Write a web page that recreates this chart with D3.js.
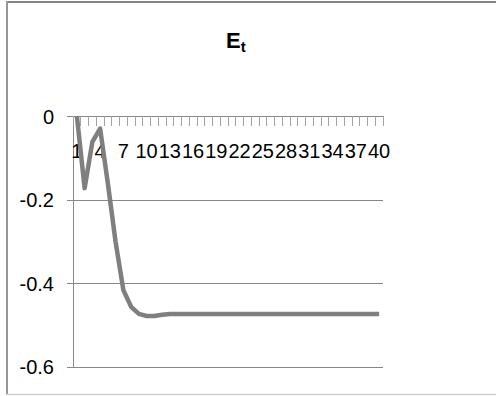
<!DOCTYPE html>
<html>
<head>
<meta charset="utf-8">
<script src="https://cdn.jsdelivr.net/npm/d3@7"></script>
<style>
  html, body { margin: 0; padding: 0; background: #fff; }
  svg { display: block; }
  text { font-family: "Liberation Sans", Arial, sans-serif; fill: #000; }
</style>
</head>
<body>
<svg id="chart" width="496" height="396"></svg>
<script>
// Categories (time steps) and the series E_t
const categories = [1, 2, 3, 4, 5, 6, 7, 8, 9, 10,
                    11, 12, 13, 14, 15, 16, 17, 18, 19, 20,
                    21, 22, 23, 24, 25, 26, 27, 28, 29, 30,
                    31, 32, 33, 34, 35, 36, 37, 38, 39, 40];
const values = [0, -0.173, -0.062, -0.03, -0.162, -0.302, -0.417, -0.457, -0.474, -0.479,
                -0.479, -0.476, -0.474, -0.474, -0.474, -0.474, -0.474, -0.474, -0.474, -0.474,
                -0.474, -0.474, -0.474, -0.474, -0.474, -0.474, -0.474, -0.474, -0.474, -0.474,
                -0.474, -0.474, -0.474, -0.474, -0.474, -0.474, -0.474, -0.474, -0.474, -0.474];
const xLabelCategories = [1, 4, 7, 10, 13, 16, 19, 22, 25, 28, 31, 34, 37, 40];
const yTicks = [0, -0.2, -0.4, -0.6];
const yTickLabels = ["0", "-0.2", "-0.4", "-0.6"];

const svg = d3.select("#chart");
const labelFont = "20px";

// Chart frame
svg.append("line").attr("x1", 7).attr("x2", 496).attr("y1", 2).attr("y2", 2)
  .attr("stroke", "#858585").attr("stroke-width", 2);
svg.append("line").attr("x1", 7).attr("x2", 7).attr("y1", 1).attr("y2", 395)
  .attr("stroke", "#969696").attr("stroke-width", 2);
svg.append("line").attr("x1", 6).attr("x2", 496).attr("y1", 394.5).attr("y2", 394.5)
  .attr("stroke", "#cfcfcf").attr("stroke-width", 1.5);

const plot = { left: 73, right: 383, top: 116, bottom: 366.5 };

const x = d3.scaleBand().domain(categories).range([plot.left, plot.right]).padding(0);
const y = d3.scaleLinear().domain([-0.6, 0]).range([plot.bottom, plot.top]);

// Horizontal gridlines with left tick marks and labels
const yAxis = d3.axisLeft(y)
  .tickValues(yTicks)
  .tickSize(plot.right - plot.left + 6)
  .tickFormat((d, i) => yTickLabels[i]);

const gy = svg.append("g")
  .attr("transform", `translate(${plot.right},0)`)
  .call(yAxis);
gy.select(".domain").remove();
gy.selectAll(".tick line").attr("stroke", "#878787").attr("stroke-width", 1)
  .attr("shape-rendering", "crispEdges");
gy.selectAll(".tick text")
  .attr("x", -(plot.right - 54))
  .attr("dy", "0.36em")
  .attr("font-size", labelFont)
  .attr("font-family", "Liberation Sans, Arial, sans-serif")
  .attr("fill", "#000");

// Vertical value axis line
svg.append("line")
  .attr("x1", plot.left).attr("x2", plot.left)
  .attr("y1", plot.top).attr("y2", plot.bottom)
  .attr("stroke", "#878787").attr("stroke-width", 1)
  .attr("shape-rendering", "crispEdges");

// Category axis at zero: tick marks between categories
const tickPositions = categories.map(c => x(c)).concat([x(categories[categories.length - 1]) + x.bandwidth()]);
svg.append("g").selectAll("line")
  .data(tickPositions)
  .join("line")
  .attr("x1", d => d).attr("x2", d => d)
  .attr("y1", y(0)).attr("y2", y(0) + 9.5)
  .attr("stroke", "#a3a3a3").attr("stroke-width", 1)
  .attr("shape-rendering", "crispEdges");

// Category labels every third step
const xAxis = d3.axisBottom(x).tickValues(xLabelCategories).tickSize(0);
const gx = svg.append("g")
  .attr("transform", `translate(0,${y(0)})`)
  .call(xAxis);
gx.select(".domain").remove();
gx.selectAll(".tick text")
  .attr("y", 42).attr("dy", "0")
  .attr("font-size", labelFont)
  .attr("font-family", "Liberation Sans, Arial, sans-serif")
  .attr("fill", "#000");

// Series line
const line = d3.line()
  .x((d, i) => x(categories[i]) + x.bandwidth() / 2)
  .y(d => y(d));

svg.append("path")
  .datum(values)
  .attr("d", line)
  .attr("fill", "none")
  .attr("stroke", "#7f7f7f")
  .attr("stroke-width", 4.5)
  .attr("stroke-linejoin", "round")
  .attr("stroke-linecap", "butt");

// Title E with subscript t
const title = svg.append("text")
  .attr("x", 226).attr("y", 48)
  .attr("font-weight", "bold");
title.append("tspan").attr("font-size", "22px").text("E");
title.append("tspan").attr("font-size", "15px").attr("dy", 4).text("t");
</script>
</body>
</html>
